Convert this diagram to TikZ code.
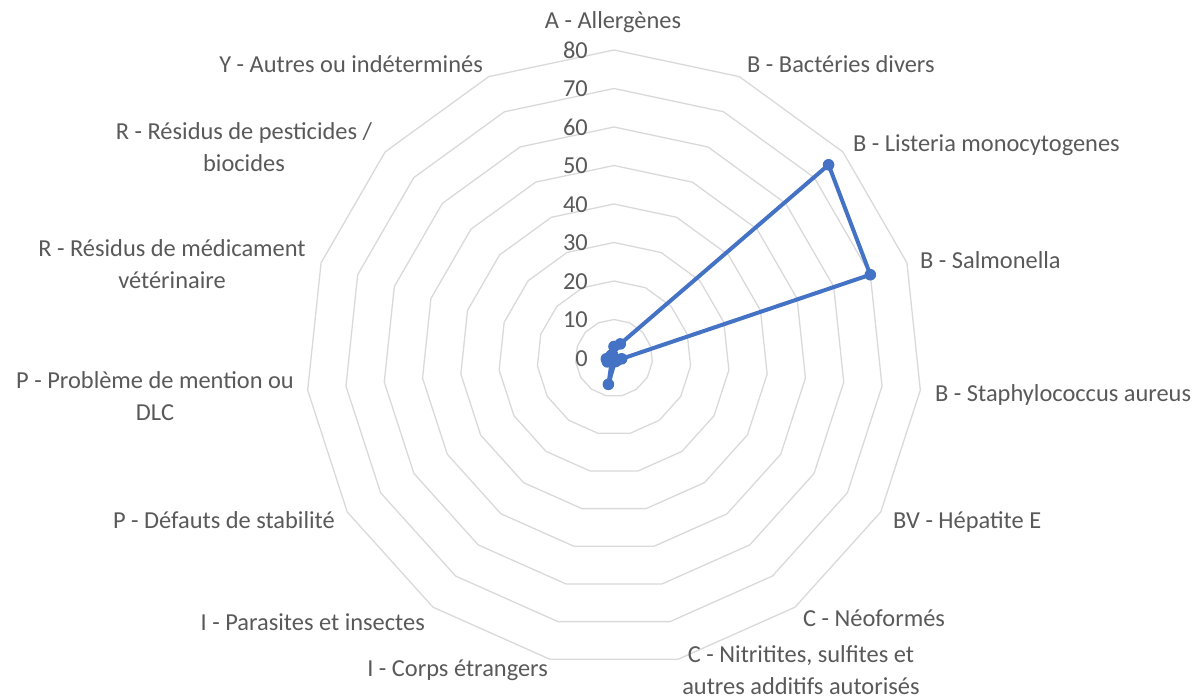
\documentclass[tikz,border=0pt]{standalone}
\usepackage{fontspec}
\setmainfont{Carlito}
\usepackage{xcolor}
\usepackage{tikz}

\definecolor{ringgray}{HTML}{D9D9D9}
\definecolor{textgray}{HTML}{595959}
\definecolor{serieblue}{HTML}{4472C4}

\begin{document}
\begin{tikzpicture}[x=1pt,y=-1pt,
    ring/.style={ringgray,line width=1.3pt,line join=round},
    serie/.style={serieblue,line width=4pt,line join=round},
    lbl/.style={textgray,font=\fontsize{24.4}{32}\selectfont,inner sep=0pt,align=center},
    tick/.style={lbl,anchor=mid east}]
       \useasboundingbox (0,0) rectangle (1202,700);

       \begin{scope}[shift={(614,358)},yscale=-1]
       % rings 10 ... 80
       \foreach \k in {1,...,8}
           \draw[ring] (90:38.5*\k) \foreach \i in {1,...,14}{ -- ({90-24*\i}:38.5*\k)} -- cycle;

       % scale
       \foreach \k [evaluate=\k as \val using int(10*\k)] in {0,...,8}
           \node[tick] (t\k) at (-26,38.5*\k-6) {\val};

       % data
       \foreach \v [count=\i from 0] in {3,4,75,70,2,1,1,1,7,1,2,2,1,1,1}
           \coordinate (p\i) at ({90-24*\i}:3.85*\v);
       \draw[serie] (p0) \foreach \i in {1,...,14}{ -- (p\i)} -- cycle;
       \foreach \i in {0,...,14}
           \fill[serieblue] (p\i) circle (5.8);
       \end{scope}

       \node[lbl,anchor=mid] (lA) at (613,26) {A - Allergènes};
       \node[lbl,anchor=mid west] (lBdiv) at (747,70) {B - Bactéries divers};
       \node[lbl,anchor=mid west] (lBlist) at (853,149) {B - Listeria monocytogenes};
       \node[lbl,anchor=mid west] (lBsalm) at (920,266) {B - Salmonella};
       \node[lbl,anchor=mid west] (lBstaph) at (935,399) {B - Staphylococcus aureus};
       \node[lbl,anchor=mid west] (lBV) at (893,526) {BV - Hépatite E};
       \node[lbl,anchor=mid west] (lCneo) at (803,624) {C - Néoformés};
       \node[lbl] (lCnitr) at (801,670) {C - Nitritites, sulfites et\\autres additifs autorisés};
       \node[lbl,anchor=mid east] (lIcorps) at (548,674) {I - Corps étrangers};
       \node[lbl,anchor=mid east] (lIpara) at (425,628) {I - Parasites et insectes};
       \node[lbl,anchor=mid east] (lPdef) at (335,526) {P - Défauts de stabilité};
       \node[lbl] (lPmention) at (155,396) {P - Problème de mention ou\\DLC};
       \node[lbl] (lRmed) at (172,264) {R - Résidus de médicament\\vétérinaire};
       \node[lbl] (lRpest) at (244,147) {R - Résidus de pesticides /\\biocides};
       \node[lbl,anchor=mid east] (lY) at (483,70) {Y - Autres ou indéterminés};
   \end{tikzpicture}
\end{document}
